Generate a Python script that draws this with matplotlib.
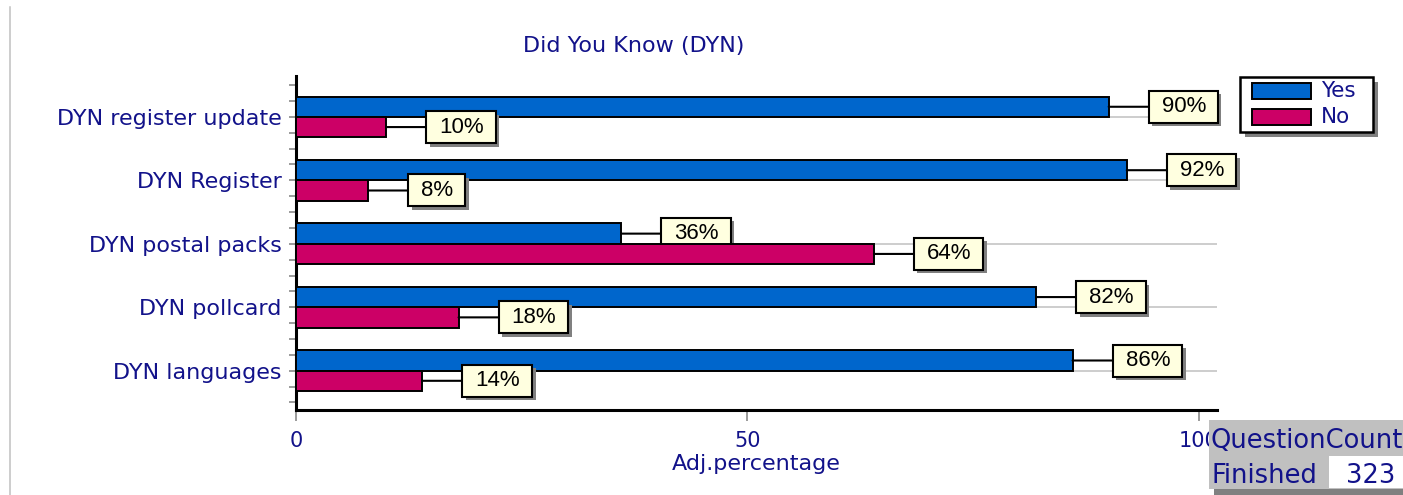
import matplotlib
matplotlib.use("Agg")
import matplotlib.pyplot as plt
from matplotlib.patches import Rectangle
from matplotlib.path import Path
from matplotlib.ticker import MultipleLocator, FixedLocator
import matplotlib.patheffects as pe

# ---------------- data ----------------
categories = ["DYN register update", "DYN Register", "DYN postal packs",
              "DYN pollcard", "DYN languages"]
yes_values = [90, 92, 36, 82, 86]
no_values = [10, 8, 64, 18, 14]
series_names = ["Yes", "No"]
x_ticks = [0, 50, 100]
title_text = "Did You Know (DYN)"
x_label = "Adj.percentage"
count_title = "QuestionCount"
count_label = "Finished"
count_value = 323

# ---------------- style ----------------
W, H = 1403, 495
NAVY = "#12128A"
YES_C = "#0066CC"
NO_C = "#CC0066"
BOX_C = "#FFFFE0"

plt.rcParams["font.family"] = ["DejaVu Sans"]

fig = plt.figure(figsize=(W / 100, H / 100), dpi=100)


def fx(x):
    return x / W


def fy(y):
    return 1 - y / H


def frect(x0, y0, x1, y1, **kw):
    r = Rectangle((fx(x0), fy(y1)), (x1 - x0) / W, (y1 - y0) / H,
                  transform=fig.transFigure, **kw)
    fig.add_artist(r)
    return r


ax_left, ax_right, ax_top, ax_bottom = 296, 1217, 76, 410.3
ax = fig.add_axes([fx(ax_left), fy(ax_bottom), (ax_right - ax_left) / W,
                   (ax_bottom - ax_top) / H])

n = len(categories)
pos = list(range(n))
h = 0.32

ax.set_xlim(0, 102)
ax.set_ylim(n - 1 + 0.625, -0.645)

# gridlines at category centres
ax.set_axisbelow(True)
ax.yaxis.set_major_locator(FixedLocator(pos))
ax.yaxis.set_minor_locator(MultipleLocator(0.25))
ax.grid(axis="y", which="major", color="#C0C0C0", lw=1.1)
ax.grid(axis="x", visible=False)

ax.barh([p - h / 2 for p in pos], yes_values, height=h, color=YES_C,
        edgecolor="black", lw=1.4, zorder=3)
ax.barh([p + h / 2 for p in pos], no_values, height=h, color=NO_C,
        edgecolor="black", lw=1.4, zorder=5)


def padded_box(x0, y0, width, height, mutation_size):
    pl, pr, py = 13, 12, 5.5
    verts = [(x0 - pl, y0 - py), (x0 + width + pr, y0 - py),
             (x0 + width + pr, y0 + height + py), (x0 - pl, y0 + height + py),
             (x0 - pl, y0 - py)]
    codes = [Path.MOVETO, Path.LINETO, Path.LINETO, Path.LINETO, Path.CLOSEPOLY]
    return Path(verts, codes)


def label(value, y, z):
    ann = ax.annotate(f"{value}%", xy=(value, y), xytext=(53, 0),
                      textcoords="offset pixels", ha="left", va="center",
                      fontsize=16, family=["Liberation Sans"], color="black",
                      bbox=dict(boxstyle=padded_box, fc=BOX_C, ec="black",
                                lw=1.5),
                      arrowprops=dict(arrowstyle="-", color="black", lw=1.5,
                                      shrinkA=0, shrinkB=0),
                      zorder=z)
    ann.get_bbox_patch().set_path_effects(
        [pe.withSimplePatchShadow(offset=(2.5, -2.5), shadow_rgbFace="#808080",
                                  alpha=1.0)])
    return ann


for p, v in zip(pos, yes_values):
    label(v, p - h / 2, 4)
for p, v in zip(pos, no_values):
    label(v, p + h / 2, 6)

# axes styling
for s in ["top", "right"]:
    ax.spines[s].set_visible(False)
for s in ["left", "bottom"]:
    ax.spines[s].set_linewidth(2.2)
    ax.spines[s].set_color("black")

ax.set_yticklabels(categories)
ax.set_xticks(x_ticks)
ax.set_xticklabels([str(t) for t in x_ticks])
ax.tick_params(axis="y", which="both", length=5, width=1.1, color="#808080",
               direction="out", pad=5.5, labelsize=16, labelcolor=NAVY)
ax.tick_params(axis="x", which="major", length=7.7, width=1.1,
               color="#808080", direction="out", pad=7.2, labelsize=15,
               labelcolor=NAVY)

# title and x label
fig.text(fx(633.5), fy(51.7), title_text, ha="center", va="baseline",
         fontsize=16, color=NAVY)
fig.text(fx(756), fy(470), x_label, ha="center", va="baseline",
         fontsize=16, color=NAVY)

# left light frame line
fig.add_artist(plt.Line2D([fx(9.5), fx(9.5)], [fy(7), fy(495)],
                          transform=fig.transFigure, color="#C0C0C0", lw=1.1))

# legend (drawn manually)
frect(1245, 81.7, 1378, 136.7, fc="#808080", ec="none", zorder=10)
frect(1240, 76.7, 1373, 131.7, fc="white", ec="black", lw=1.8, zorder=11)
for i, (name, col) in enumerate(zip(series_names, [YES_C, NO_C])):
    yc = 91 + 26 * i
    frect(1252, yc - 8, 1311, yc + 8, fc=col, ec="black", lw=1.4, zorder=12)
    fig.text(fx(1321), fy(yc), name, ha="left", va="center", fontsize=15.5,
             color=NAVY, zorder=12)

# question count box
frect(1214, 426, 1410, 495, fc="#808080", ec="none", zorder=10)
frect(1209, 420, 1410, 489, fc="#C0C0C0", ec="none", zorder=11)
frect(1329, 456, 1410, 488, fc="white", ec="none", zorder=12)
fig.text(fx(1211), fy(448), count_title, ha="left", va="baseline",
         fontsize=18.5, color=NAVY, zorder=13)
fig.text(fx(1211), fy(482.7), count_label, ha="left", va="baseline",
         fontsize=18.5, color=NAVY, zorder=13)
fig.text(fx(1371), fy(482.7), str(count_value), ha="center", va="baseline",
         fontsize=18.5, color=NAVY, zorder=13)

fig.savefig("out.png", dpi=100)
